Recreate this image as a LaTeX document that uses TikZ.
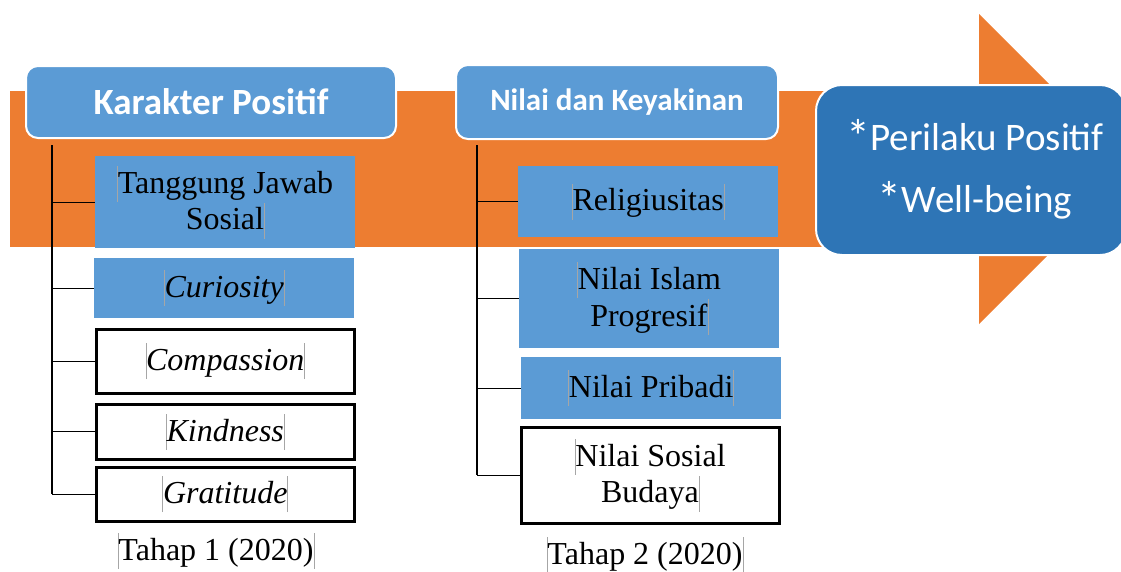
\documentclass[tikz,border=0pt]{standalone}
\usepackage{fontspec}
\setmainfont{Liberation Serif}
\newfontfamily\calfont{Carlito}
\definecolor{orng}{HTML}{ED7D31}
\definecolor{lblue}{HTML}{5B9BD5}
\definecolor{dblue}{HTML}{2E75B6}
\newcommand\mkbar{\textcolor{gray!70}{\rule[-0.27em]{0.6pt}{1.12em}}}
\newcommand\bigast{\raisebox{-0.08em}{\fontsize{48}{48}\selectfont*}}
\tikzset{
  head/.style={draw=white, line width=2pt, fill=lblue, rounded corners=12pt, text=white, anchor=north west, inner sep=0pt, font=\calfont\bfseries},
  bluebox/.style={fill=lblue, anchor=north west, inner sep=0pt, align=center, font=\fontsize{32}{35}\selectfont},
  whitebox/.style={draw=black, line width=2.5pt, fill=white, anchor=north west, inner sep=0pt, align=center, font=\fontsize{32}{35}\selectfont},
  conn/.style={draw=black, line width=1.3pt},
  caption/.style={inner sep=0pt, font=\fontsize{32}{35}\selectfont}
}
\begin{document}
\begin{tikzpicture}[x=1pt,y=-1pt]
\useasboundingbox (0,0) rectangle (1121,571);
% big orange arrow
\fill[orng] (10,91) rectangle (980,247);
\fill[orng] (979,14) -- (1134,169) -- (979,324) -- cycle;
% result box
\node[draw=white, line width=2pt, fill=dblue, rounded corners=26pt, anchor=north west, minimum width=310pt, minimum height=170pt, inner sep=0pt] (res) at (815,84) {};
\node[text=white, align=center, font=\calfont\fontsize{39}{62}\selectfont, inner sep=0pt] (restext) at (975,169) {\bigast Perilaku Positif\\\bigast Well-being};
% headers
\node[head, minimum width=370pt, minimum height=72pt, font=\calfont\bfseries\fontsize{37}{40}\selectfont] (kp) at (25,65) {Karakter Positif};
\node[head, minimum width=322pt, minimum height=74pt, font=\calfont\bfseries\fontsize{31}{34}\selectfont] (nk) at (455,64) {Nilai dan Keyakinan};
% left column
\node[bluebox, minimum width=260pt, minimum height=92pt] (tj) at (95,156) {\mkbar Tanggung Jawab\\Sosial\mkbar};
\node[bluebox, minimum width=260pt, minimum height=60pt] (cu) at (94,258) {\mkbar\itshape Curiosity\mkbar};
\node[whitebox, minimum width=258pt, minimum height=64pt] (co) at (95,328) {\mkbar\itshape Compassion\mkbar};
\node[whitebox, minimum width=258pt, minimum height=55pt] (ki) at (95,403) {\mkbar\itshape Kindness\mkbar};
\node[whitebox, minimum width=258pt, minimum height=54pt] (gr) at (95,466) {\mkbar\itshape Gratitude\mkbar};
\node[caption] (t1) at (216,551) {\mkbar Tahap 1 (2020)\mkbar};
% right column
\node[bluebox, minimum width=260pt, minimum height=71pt] (re) at (518,166) {\mkbar Religiusitas\mkbar};
\node[bluebox, minimum width=260pt, minimum height=99pt] (ip) at (519,249) {\mkbar Nilai Islam\\Progresif\mkbar};
\node[bluebox, minimum width=260pt, minimum height=62pt] (pr) at (521,357) {\mkbar Nilai Pribadi\mkbar};
\node[whitebox, minimum width=258pt, minimum height=96pt] (sb) at (520,426) {\mkbar Nilai Sosial\\Budaya\mkbar};
\node[caption] (t2) at (645,555) {\mkbar Tahap 2 (2020)\mkbar};
% connectors left
\coordinate (v1) at (52,145);
\draw[conn] (v1) -- (v1 |- gr.west);
\foreach \n in {tj,cu,co,ki,gr}{\draw[conn] (v1 |- \n.west) -- (\n.west);}
% connectors right
\coordinate (v2) at (477,145);
\draw[conn] (v2) -- (v2 |- sb.west);
\foreach \n in {re,ip,pr,sb}{\draw[conn] (v2 |- \n.west) -- (\n.west);}
\end{tikzpicture}
\end{document}
